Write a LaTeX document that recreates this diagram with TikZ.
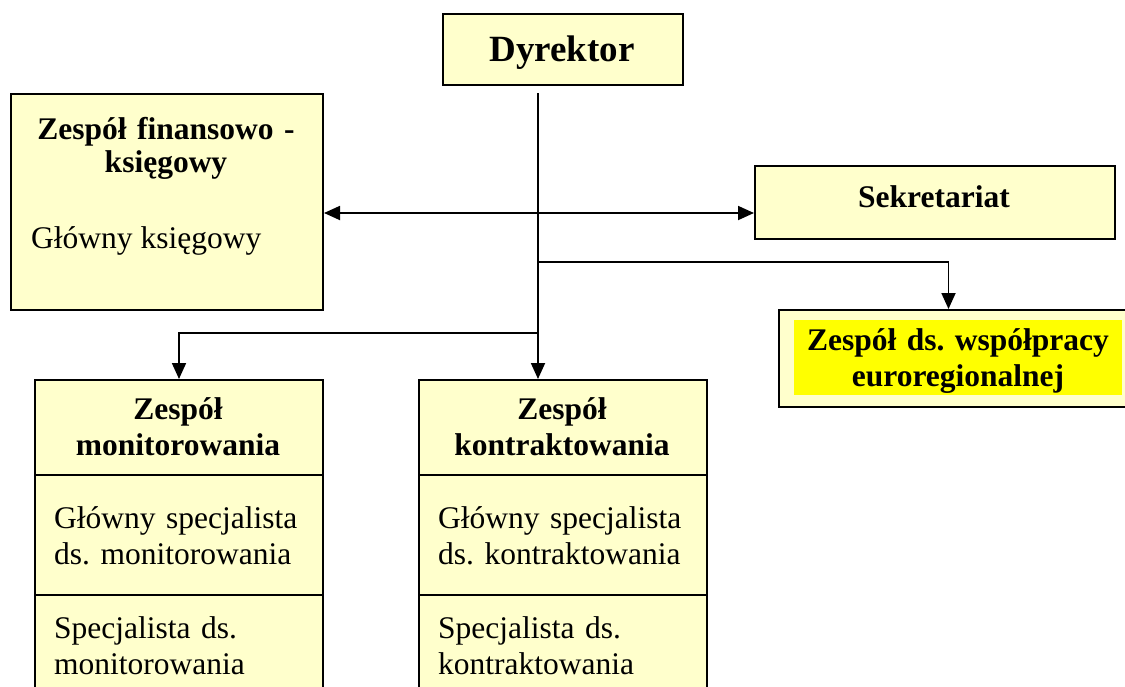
\documentclass[tikz,border=0pt]{standalone}
\usepackage{fontspec}
\setmainfont{Liberation Serif}
\usetikzlibrary{arrows.meta}
\definecolor{boxfill}{HTML}{FFFFCC}
\definecolor{hilite}{HTML}{FFFF00}
\frenchspacing

\begin{document}
\begin{tikzpicture}[x=1pt,y=-1pt,
    box/.style={draw, line width=2pt, fill=boxfill, inner sep=0pt, anchor=north west},
    txt/.style={inner sep=0pt, font=\fontsize{31.5}{36.5}\selectfont},
    head/.style={inner sep=0pt, font=\fontsize{31.5}{36.5}\selectfont\bfseries},
    link/.style={line width=1.8pt},
    arr/.style={link, -{Triangle[length=16pt,width=14pt]}}]
  \useasboundingbox (0,0) rectangle (1125,686);
  \clip (0,0) rectangle (1125,686);

  % boxes
  \node[box, minimum width=240, minimum height=71] (dyr) at (442,13) {};
  \node[box, minimum width=312, minimum height=216] (fin) at (10,93) {};
  \node[box, minimum width=360, minimum height=73] (sek) at (754,165) {};
  \node[box, minimum width=360, minimum height=97] (wsp) at (778,309) {};
  \node[inner sep=0pt, fill=hilite, anchor=north west, minimum width=328, minimum height=75] (wspFill) at (794,320) {};

  % texts
  \node[head, anchor=base, font=\fontsize{37}{40}\selectfont\bfseries] (dyrText) at (562,61) {Dyrektor};
  \node[head, anchor=base, text width=300, align=center, font=\fontsize{31.5}{33.5}\selectfont\bfseries] (finTitle) at (166,139) {Zespół finansowo -\\księgowy};
  \node[txt, anchor=base west] (finMain) at (31,248) {Główny księgowy};
  \node[head, anchor=base] (sekText) at (934,207) {Sekretariat};
  \node[head, anchor=base, text width=328, align=center] (wspText) at (958,350) {Zespół ds. współpracy\\euroregionalnej};

  % two teams
  \foreach \n/\x/\word in {mon/34/monitorowania, kon/418/kontraktowania} {
    \node[box, minimum width=288, minimum height=95] (\n Head) at (\x,379) {};
    \node[box, minimum width=288, minimum height=120] (\n Main) at (\x,474) {};
    \node[box, minimum width=288, minimum height=140] (\n Spec) at (\x,594) {};
    \node[head, anchor=base, text width=280, align=center] (\n HeadText) at (\x+144,419) {Zespół\\\word};
    \node[txt, anchor=base west, text width=262, align=left] (\n MainText) at (\x+20,528) {Główny specjalista\\ds. \word};
    \node[txt, anchor=base west, text width=262, align=left] (\n SpecText) at (\x+20,638) {Specjalista ds.\\\word};
  }

  % connectors
  \coordinate (top) at (538,93);
  \coordinate (mid) at (538,213);
  \coordinate (b1) at (538,262);
  \coordinate (b2) at (538,333);
  \draw[arr] (top) -- (konHead.north -| top);
  \draw[link, {Triangle[length=16pt,width=14pt]}-{Triangle[length=16pt,width=14pt]}] (fin.east |- mid) -- (sek.west |- mid);
  \draw[arr] (b1) -| ([xshift=-10.5pt]wsp.north);
  \draw[arr] (b2) -| (monHead.north);
\end{tikzpicture}
\end{document}
